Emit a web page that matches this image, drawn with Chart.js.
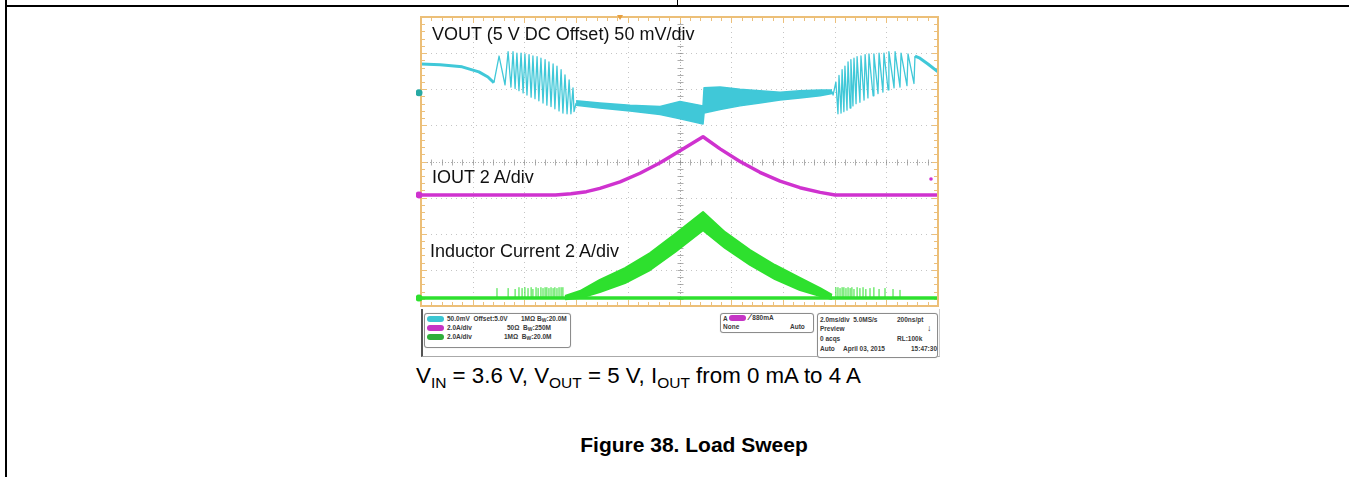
<!DOCTYPE html>
<html><head><meta charset="utf-8">
<script src="https://cdn.jsdelivr.net/npm/chart.js@4/dist/chart.umd.min.js"></script>
<style>
html,body{margin:0;padding:0;background:#fff;}
body{width:1349px;height:477px;position:relative;overflow:hidden;font-family:"Liberation Sans",Arial,sans-serif;color:#000;}
.abs{position:absolute;}
.lbl{position:absolute;font-size:18px;line-height:18px;white-space:nowrap;color:#111;z-index:3;}
.tiny{position:absolute;font-size:6.5px;line-height:7px;font-weight:bold;color:#3a3a3a;white-space:nowrap;}
.tiny sub{font-size:5px;vertical-align:-1px;}
.box{position:absolute;border:1px solid #8c8c8c;border-radius:3px;background:#fff;box-shadow:0 0 1px #bbb;}
.pill{position:absolute;width:17px;height:6px;border-radius:4px;}
.cap{position:absolute;font-size:22.3px;line-height:22px;white-space:nowrap;}
.cap sub{font-size:15.5px;vertical-align:-5px;line-height:0;}
</style></head><body>
<div class="abs" style="left:5px;top:0;width:2px;height:477px;background:#000"></div>
<div class="abs" style="left:5px;top:5px;width:1344px;height:2px;background:#000"></div>
<div class="abs" style="left:677px;top:0;width:1px;height:6px;background:#000"></div>

<canvas id="c" class="abs" width="527" height="299" style="left:416px;top:12px;width:527px;height:299px;z-index:1"></canvas>

<div class="lbl" style="left:432px;top:25px">VOUT (5 V DC Offset) 50 mV/div</div>
<div class="lbl" style="left:432px;top:168px">IOUT 2 A/div</div>
<div class="lbl" style="left:430px;top:242px">Inductor Current 2 A/div</div>

<!-- instrument info panel -->
<div class="abs" style="left:421px;top:309px;width:516px;height:47px;border-left:2px solid #555;border-bottom:1px solid #aaa;border-right:1px solid #ccc;background:#fff"></div>
<div class="box" style="left:424px;top:313px;width:145px;height:33px"></div>
<div class="pill" style="left:427px;top:316px;background:#3cc6d2"></div>
<div class="pill" style="left:427px;top:325px;background:#c535c5"></div>
<div class="pill" style="left:427px;top:334px;background:#2fae3a"></div>
<div class="tiny" style="left:447px;top:315px">50.0mV&nbsp; Offset:5.0V</div>
<div class="tiny" style="left:521px;top:315px">1MΩ B<sub>W</sub>:20.0M</div>
<div class="tiny" style="left:447px;top:324px">2.0A/div</div>
<div class="tiny" style="left:507px;top:324px">50Ω&nbsp; B<sub>W</sub>:250M</div>
<div class="tiny" style="left:447px;top:333px">2.0A/div</div>
<div class="tiny" style="left:504px;top:333px">1MΩ&nbsp; B<sub>W</sub>:20.0M</div>

<div class="box" style="left:720px;top:313px;width:92px;height:18px"></div>
<div class="tiny" style="left:723px;top:315px">A</div>
<div class="pill" style="left:729px;top:315px;background:#c535c5"></div>
<div class="tiny" style="left:749px;top:314px"><span style="font-size:9px">⁄</span> 880mA</div>
<div class="tiny" style="left:723px;top:323px">None</div>
<div class="tiny" style="left:790px;top:323px">Auto</div>

<div class="box" style="left:817px;top:313px;width:119px;height:43px"></div>
<div class="tiny" style="left:820px;top:316px">2.0ms/div&nbsp; 5.0MS/s</div>
<div class="tiny" style="left:897px;top:316px">200ns/pt</div>
<div class="tiny" style="left:820px;top:325px">Preview</div>
<div class="tiny" style="left:927px;top:324px;font-size:9px;line-height:9px">↓</div>
<div class="tiny" style="left:820px;top:335px">0 acqs</div>
<div class="tiny" style="left:897px;top:335px">RL:100k</div>
<div class="tiny" style="left:820px;top:345px">Auto</div>
<div class="tiny" style="left:843px;top:345px">April 03, 2015</div>
<div class="tiny" style="left:911px;top:345px">15:47:30</div>

<div class="cap" style="left:416px;top:365px">V<sub>IN</sub> = 3.6 V, V<sub>OUT</sub> = 5 V, I<sub>OUT</sub> from 0 mA to 4 A</div>
<div class="cap" style="left:694px;top:434px;font-weight:bold;font-size:21px;transform:translateX(-50%)">Figure 38. Load Sweep</div>

<script>
// ---- data (time in ms, 2 ms/div; VOUT in mV around 5 V; currents in A) ----
const msPerDiv = 2, xDivs = 10, yDivs = 8;
const voutStartT = [0.00,0.74,1.59,2.24,2.59,2.82];
const voutStartV = [40,39,36,29,22,14];
const voutLeftT = [2.82,3.02,3.25,3.37,3.48,3.56,3.64,3.71,3.79,3.87,3.95,4.02,4.10,4.18,4.26,4.33,4.41,4.49,4.56,4.64,4.72,4.80,4.87,4.95,5.03,5.11,5.18,5.26,5.34,5.42,5.49,5.57,5.65,5.73,5.80,5.88,5.92,6.00];
const voutLeftV = [14,51,11,57,8,57,6,55,3,55,0,54,-3,53,-6,51,-8,50,-11,48,-14,46,-17,43,-19,40,-22,37,-25,32,-28,25,-29,18,-29,7,-26,-14];
const voutBandT  = [6.00,6.92,8.09,9.25,10.02,10.91,10.95,11.57,12.34,13.11,13.89,14.66,15.44,15.90];
const voutBandHi = [-11,-14,-17,-19,-12,-18,7,8,5,3,1,3,4,4];
const voutBandLo = [-17,-21,-25,-30,-36,-43,-28,-23,-18,-14,-10,-7,-4,-1];
const voutRightT = [15.90,15.94,16.05,16.13,16.17,16.25,16.29,16.36,16.40,16.48,16.52,16.60,16.63,16.71,16.75,16.83,16.87,16.98,17.02,17.14,17.18,17.29,17.33,17.49,17.52,17.68,17.72,17.87,17.91,18.07,18.10,18.30,18.34,18.53,18.57,18.80,18.84,19.07,19.11];
const voutRightV = [2,-3,15,-29,24,-28,32,-26,37,-24,43,-21,46,-18,48,-15,50,-13,51,-10,53,-7,54,-4,54,-1,55,1,55,4,57,7,57,8,55,10,54,13,51];
const voutEndT = [19.11,19.30,19.61,20.00];
const voutEndV = [51,48,40,29];
const ioutT = [0,5.20,5.80,6.40,6.92,7.70,8.47,9.25,10.02,10.91,11.57,12.34,13.11,13.89,14.66,15.44,16.02,20];
const ioutA = [0,0,0.06,0.18,0.36,0.72,1.20,1.78,2.45,3.22,2.55,1.85,1.25,0.76,0.40,0.14,0,0];
const ilBaseT = [0,20];
const ilBaseA = [0,0];
const ilT  = [5.57,6.15,6.92,7.89,8.86,9.83,10.91,11.76,12.73,13.69,14.66,15.44,15.90];
const ilHi = [0.11,0.39,1.00,1.66,2.49,3.54,4.76,3.65,2.66,1.83,1.11,0.55,0.17];
const ilLo = [-0.06,0,0.33,0.83,1.55,2.55,3.76,2.77,1.83,1.05,0.44,0.11,-0.06];
const spikeT = [2.94,3.37,3.64,3.79,3.91,4.02,4.14,4.26,4.33,4.45,4.53,4.64,4.72,4.80,4.87,4.95,5.03,5.11,5.18,5.26,5.34,5.42,5.49,16.05,16.13,16.21,16.29,16.36,16.44,16.52,16.60,16.67,16.75,16.87,16.98,17.10,17.21,17.37,17.52,17.72,17.95,18.26,18.53];
const spikeA = [0.55,0.55,0.5,0.6,0.55,0.6,0.55,0.6,0.5,0.6,0.55,0.6,0.55,0.6,0.6,0.55,0.6,0.55,0.6,0.55,0.6,0.6,0.6,0.6,0.6,0.55,0.6,0.6,0.55,0.6,0.55,0.6,0.5,0.6,0.55,0.6,0.5,0.55,0.6,0.5,0.55,0.5,0.45];
const triggerTime = 7.7, triggerLevel = 0.88;

const CYAN = '#40c8d8', MAG = '#cf32cf', GRN = '#2ee02e';
const pts = (t, v) => t.map((x, i) => ({x, y: v[i]}));
const spikePts = spikeT.flatMap((x, i) => [{x, y: 0}, {x, y: spikeA[i]}, {x, y: null}]);

const scopePlugin = {
  id: 'scope',
  beforeDatasetsDraw(chart) {
    const {ctx, chartArea: a, scales} = chart;
    const X = scales.x, Y = scales.yd;
    ctx.save();
    ctx.strokeStyle = 'rgba(150,150,150,0.55)';
    ctx.lineWidth = 1;
    ctx.setLineDash([1, 4]);
    for (let i = 1; i < xDivs; i++) {
      if (i === xDivs / 2) continue;
      const px = Math.round(X.getPixelForValue(i * msPerDiv)) + 0.5;
      ctx.beginPath(); ctx.moveTo(px, a.top); ctx.lineTo(px, a.bottom); ctx.stroke();
    }
    for (let j = 1; j < yDivs; j++) {
      if (j === yDivs / 2) continue;
      const py = Math.round(Y.getPixelForValue(j)) + 0.5;
      ctx.beginPath(); ctx.moveTo(a.left, py); ctx.lineTo(a.right, py); ctx.stroke();
    }
    ctx.setLineDash([1, 2]);
    ctx.strokeStyle = 'rgba(140,140,140,0.7)';
    const cx = Math.round(X.getPixelForValue(xDivs / 2 * msPerDiv)) + 0.5;
    const cy = Math.round(Y.getPixelForValue(yDivs / 2)) + 0.5;
    ctx.beginPath(); ctx.moveTo(cx, a.top); ctx.lineTo(cx, a.bottom); ctx.stroke();
    ctx.beginPath(); ctx.moveTo(a.left, cy); ctx.lineTo(a.right, cy); ctx.stroke();
    ctx.setLineDash([]);
    for (let k = 1; k < xDivs * 5; k++) {
      const px = Math.round(X.getPixelForValue(k * msPerDiv / 5)) + 0.5;
      ctx.beginPath(); ctx.moveTo(px, cy - 3); ctx.lineTo(px, cy + 3); ctx.stroke();
    }
    for (let k = 1; k < yDivs * 5; k++) {
      const py = Math.round(Y.getPixelForValue(k / 5)) + 0.5;
      ctx.beginPath(); ctx.moveTo(cx - 3, py); ctx.lineTo(cx + 3, py); ctx.stroke();
    }
    ctx.strokeStyle = '#ecc07c';
    for (let k = 1; k < xDivs * 5; k++) {
      const px = Math.round(X.getPixelForValue(k * msPerDiv / 5)) + 0.5;
      const L = k % 5 === 0 ? 6 : 4;
      ctx.beginPath(); ctx.moveTo(px, a.top); ctx.lineTo(px, a.top + L); ctx.stroke();
      ctx.beginPath(); ctx.moveTo(px, a.bottom); ctx.lineTo(px, a.bottom - L); ctx.stroke();
    }
    for (let k = 1; k < yDivs * 5; k++) {
      const py = Math.round(Y.getPixelForValue(k / 5)) + 0.5;
      const L = k % 5 === 0 ? 6 : 4;
      ctx.beginPath(); ctx.moveTo(a.left, py); ctx.lineTo(a.left + L, py); ctx.stroke();
      ctx.beginPath(); ctx.moveTo(a.right, py); ctx.lineTo(a.right - L, py); ctx.stroke();
    }
    ctx.restore();
  },
  afterDatasetsDraw(chart) {
    const {ctx, chartArea: a, scales} = chart;
    ctx.save();
    ctx.strokeStyle = '#ecbf78';
    ctx.lineWidth = 2;
    ctx.strokeRect(a.left, a.top, a.right - a.left, a.bottom - a.top);
    [['yv', '#27a9a4'], ['yi', MAG], ['yl', GRN]].forEach(([id, col]) => {
      const py = scales[id].getPixelForValue(0);
      ctx.fillStyle = col;
      ctx.beginPath(); ctx.arc(a.left - 2, py, 3.5, 0, Math.PI * 2); ctx.fill();
    });
    const tx = scales.x.getPixelForValue(triggerTime);
    ctx.fillStyle = '#e8a040';
    ctx.beginPath(); ctx.moveTo(tx - 3, a.top - 2); ctx.lineTo(tx + 3, a.top - 2); ctx.lineTo(tx, a.top + 3); ctx.closePath(); ctx.fill();
    const ty = scales.yi.getPixelForValue(triggerLevel);
    ctx.fillStyle = MAG;
    ctx.beginPath(); ctx.arc(a.right - 7, ty, 1.8, 0, Math.PI * 2); ctx.fill();
    ctx.restore();
  }
};

new Chart(document.getElementById('c'), {
  type: 'line',
  data: {
    datasets: [
      {data: pts(voutStartT, voutStartV), yAxisID: 'yv', borderColor: CYAN, borderWidth: 3, fill: false},
      {data: pts(voutLeftT, voutLeftV), yAxisID: 'yv', borderColor: CYAN, borderWidth: 1.3, fill: false},
      {data: pts(voutBandT, voutBandHi), yAxisID: 'yv', borderColor: CYAN, borderWidth: 1.5, backgroundColor: CYAN, fill: '+1'},
      {data: pts(voutBandT, voutBandLo), yAxisID: 'yv', borderColor: CYAN, borderWidth: 1.5, fill: false},
      {data: pts(voutRightT, voutRightV), yAxisID: 'yv', borderColor: CYAN, borderWidth: 1.3, fill: false},
      {data: pts(voutEndT, voutEndV), yAxisID: 'yv', borderColor: CYAN, borderWidth: 3, fill: false},
      {data: pts(ioutT, ioutA), yAxisID: 'yi', borderColor: MAG, borderWidth: 3.5, fill: false},
      {data: pts(ilBaseT, ilBaseA), yAxisID: 'yl', borderColor: GRN, borderWidth: 3.5, fill: false},
      {data: spikePts, yAxisID: 'yl', borderColor: GRN, borderWidth: 1, fill: false, spanGaps: false},
      {data: pts(ilT, ilHi), yAxisID: 'yl', borderColor: GRN, borderWidth: 2, backgroundColor: GRN, fill: '+1'},
      {data: pts(ilT, ilLo), yAxisID: 'yl', borderColor: GRN, borderWidth: 2, fill: false}
    ]
  },
  options: {
    responsive: false,
    animation: false,
    devicePixelRatio: 1,
    layout: {padding: {left: 5, right: 5, top: 5, bottom: 5}},
    plugins: {legend: {display: false}, tooltip: {enabled: false}},
    elements: {point: {radius: 0}, line: {tension: 0, borderJoinStyle: 'round'}},
    scales: {
      x: {type: 'linear', min: 0, max: xDivs * msPerDiv, display: false},
      yv: {type: 'linear', min: -295, max: 105, display: false},
      yi: {type: 'linear', min: -6.15, max: 9.85, display: false},
      yl: {type: 'linear', min: -0.44, max: 15.56, display: false},
      yd: {type: 'linear', min: 0, max: yDivs, display: false}
    }
  },
  plugins: [scopePlugin]
});
</script>
</body></html>
